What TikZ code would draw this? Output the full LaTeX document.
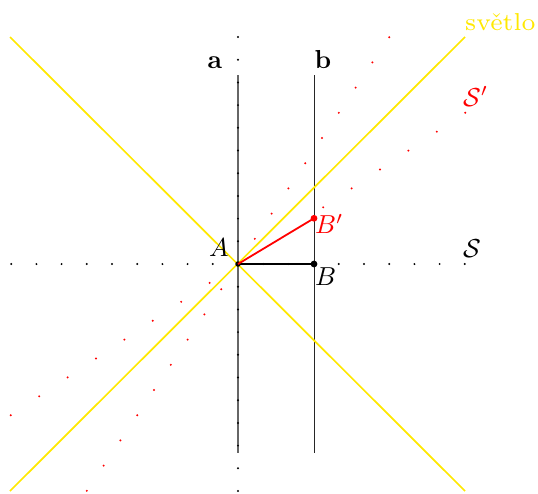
\documentclass[tikz,border=0pt]{standalone}
\usepackage{amsmath}
\usetikzlibrary{calc}
\definecolor{lightyel}{RGB}{255,232,0}
\newcommand{\biglbl}[1]{\scalebox{2.6}{\fontsize{10}{12}\selectfont #1}}
\newcommand{\smalllbl}[1]{\scalebox{3.5}{\fontsize{7}{8}\selectfont #1}}
\tikzset{
  lbl/.style={anchor=base west, inner sep=0pt},
  lightline/.style={draw=lightyel, line width=1.7pt},
  worldline/.style={draw=black!85, line width=0.7pt},
  worldlinea/.style={draw=black!60, line width=1.5pt},
  tickdot/.style={fill=black},
  primedot/.style={fill=red},
  bigdot/.style={circle, inner sep=0pt, minimum size=6.8pt}
}
\begin{document}
\begin{tikzpicture}[x=1pt,y=-1pt]
\useasboundingbox (0,0) rectangle (538,493);
% coordinates
\coordinate (A) at (238,264);
\coordinate (L1s) at (10,37);
\coordinate (L1e) at (465,491);
\coordinate (L2s) at (10,491);
\coordinate (L2e) at (465,37);
\coordinate (atop) at (238,75);
\coordinate (abot) at (238,453);
\coordinate (btop) at (314,75);
\coordinate (bbot) at (314,453);
% world lines a, b
\draw[worldlinea] (atop) -- (abot);
\draw[worldline] (btop) -- (bbot);
% light lines
\draw[lightline] (L1s) -- (L1e);
\draw[lightline] (L2s) -- (L2e);
% S axes dots (black)
\foreach \k in {1,...,9} {
  \fill[tickdot] ($(A)+(25.2*\k,0)$) circle (1.1pt);
  \fill[tickdot] ($(A)+(-25.2*\k,0)$) circle (1.1pt);
}
\foreach \k in {1,...,10} {
  \fill[tickdot] ($(A)+(0,22.7*\k)$) circle (1.1pt);
  \fill[tickdot] ($(A)+(0,-22.7*\k)$) circle (1.1pt);
}
% S' axes dots (red)
\foreach \k in {1,...,9} {
  \fill[primedot] ($(A)+(16.8*\k,-25.2*\k)$) circle (1.1pt);
  \fill[primedot] ($(A)+(-16.8*\k,25.2*\k)$) circle (1.1pt);
}
\foreach \k in {3,...,8} {
  \fill[primedot] ($(A)+(28.4*\k,-18.9*\k)$) circle (1.1pt);
}
\foreach \k in {1,...,8} {
  \fill[primedot] ($(A)+(-28.4*\k,18.9*\k)$) circle (1.1pt);
}
% events
\node[bigdot, fill=black, minimum size=5.5pt] (Adot) at (A) {};
\node[bigdot, fill=black] (B) at (314,264) {};
\node[bigdot, fill=red] (Bp) at (314,218.3) {};
\draw[black, line width=1.8pt] (A) -- (B.center);
\draw[red, line width=1.8pt] (A) -- (Bp.center);
% labels
\node[lbl] (la) at (207.5,68) {\biglbl{\textbf{a}}};
\node[lbl] (lb) at (314.5,68) {\biglbl{\textbf{b}}};
\node[lbl] (lA) at (209,256.5) {\biglbl{$A$}};
\node[lbl] (lB) at (315,285.5) {\biglbl{$B$}};
\node[lbl, text=red] (lBp) at (315,233.5) {\biglbl{$B'$}};
\node[lbl] (lS) at (463,257) {\biglbl{$\mathcal{S}$}};
\node[lbl, text=red] (lSp) at (463,106) {\biglbl{$\mathcal{S}'$}};
\node[lbl, text=lightyel] (lsv) at (465,30) {\smalllbl{světlo}};
\end{tikzpicture}
\end{document}
